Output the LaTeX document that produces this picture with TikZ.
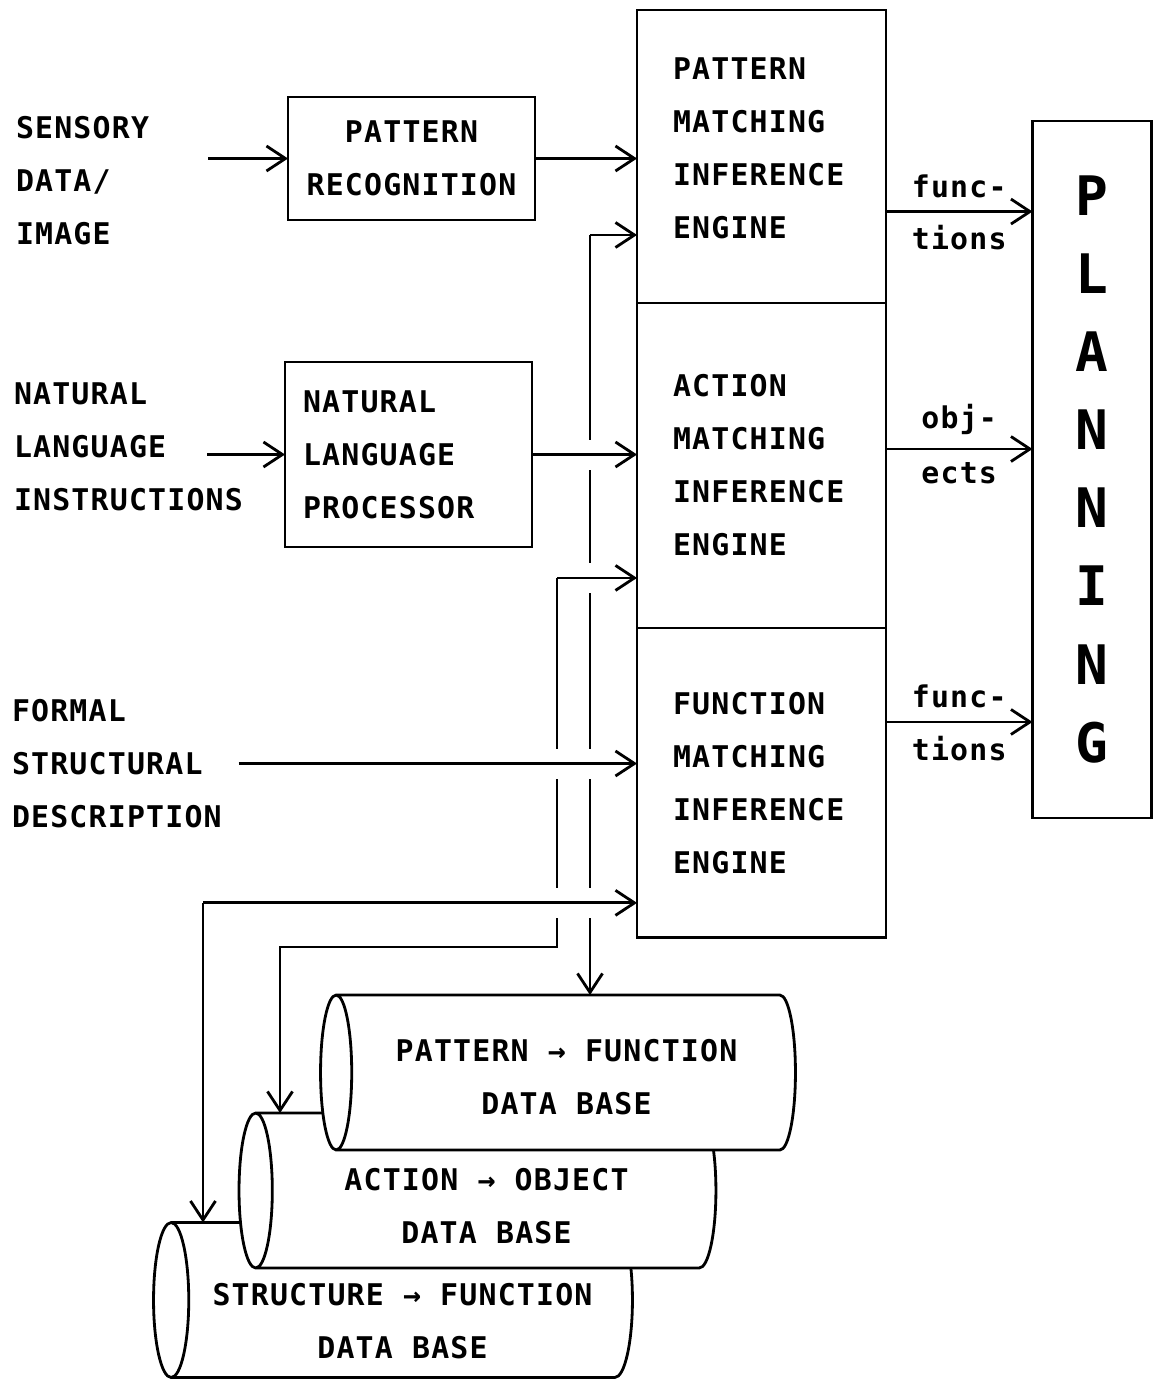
\documentclass[tikz,border=0pt]{standalone}
\usepackage{fontspec}
\usepackage{tikz}
\usetikzlibrary{arrows.meta,shapes.geometric,positioning,calc}
\newfontfamily\scanfont[LetterSpace=4]{DejaVu Sans Mono}
\newcommand{\scantext}{\scanfont\bfseries\fontsize{17}{30.2}\selectfont}
\newcommand{\bigtext}{\scanfont\bfseries\fontsize{31}{44.4}\selectfont}

\begin{document}
\begin{tikzpicture}[x=0.02cm, y=-0.02cm, line width=1.6pt, >={Straight Barb[length=0.38cm,width=0.5cm]},
    every node/.style={font=\scantext, inner sep=0pt, outer sep=0pt},
    box/.style={draw, fill=white, align=center},
    engine/.style={box, minimum width=4.98cm, text width=3.54cm, inner xsep=0.72cm, align=left},
    database/.style={cylinder, shape border rotate=180, draw, fill=white, minimum width=3.1cm, align=center},
    inputtext/.style={anchor=west, align=left},
    flowlabel/.style={inner sep=0.28cm}]
        \useasboundingbox (0,0) rectangle (1154,1380);

        \node[inputtext]  (sensory)  at (16,180.5)  {SENSORY\\DATA/\\IMAGE};
        \node[inputtext]  (natural)  at (14,446.5)  {NATURAL\\LANGUAGE\\INSTRUCTIONS};
        \node[inputtext]  (formal)   at (12,763.5)  {FORMAL\\STRUCTURAL\\DESCRIPTION};

        \node[box, minimum width=4.94cm, minimum height=2.46cm]    (pr)  at (411.5,158.5) {PATTERN\\RECOGNITION};
        \node[box, minimum width=4.94cm, minimum height=3.7cm, text width=4.22cm, inner xsep=0.36cm, align=left]
                                                                   (nlp) at (408.5,454.5) {NATURAL\\LANGUAGE\\PROCESSOR};

        \node[engine, minimum height=5.86cm, text depth=3.52cm]  (pme)  at (761.5,156.5)  {PATTERN\\MATCHING\\INFERENCE\\ENGINE};
        \node[engine, minimum height=6.5cm]   (ame)  [below=0pt of pme] {ACTION\\MATCHING\\INFERENCE\\ENGINE};
        \node[engine, minimum height=6.2cm]   (fme)  [below=0pt of ame] {FUNCTION\\MATCHING\\INFERENCE\\ENGINE};

        \node[box, minimum width=2.38cm, minimum height=13.94cm, font=\bigtext] (plan) at (1092,469.5) {P\\L\\A\\N\\N\\I\\N\\G};

        \node[database, minimum height=9.58cm, text height=2.34cm, aspect=0.3]   (sfdb)  at (402.5,1300)   {STRUCTURE → FUNCTION\\DATA BASE};
        \node[database, minimum height=9.54cm, text height=2.14cm, aspect=0.31]  (aodb)  at (486.5,1190.5) {ACTION → OBJECT\\DATA BASE};
        \node[database, minimum height=9.5cm, text height=1.7cm, aspect=0.365]   (pfdb)  at (566.5,1072.5) {PATTERN → FUNCTION\\DATA BASE};

        \coordinate (busA)  at (590,0);
        \coordinate (busB)  at (557,0);
        \coordinate (busC)  at (203,0);
        \coordinate (bendB) at (280,947);
        \coordinate (pA)    at ([yshift=-1.57cm]pme.west);
        \coordinate (pB)    at ([yshift=-2.25cm]ame.west);
        \coordinate (pC)    at ([yshift=-2.4cm]fme.west);
        \coordinate (pftop) at ([yshift=1.55cm]pfdb.center);
        \coordinate (aotop) at ([yshift=1.55cm]aodb.center);
        \coordinate (sftop) at ([yshift=1.55cm]sfdb.center);
        \coordinate (in1)   at ([yshift=5.16cm]plan.west);
        \coordinate (in2)   at ([yshift=0.41cm]plan.west);
        \coordinate (in3)   at ([yshift=-5.05cm]plan.west);

        \draw[->] (busA |- pA) -- (busA |- pftop);
        \draw[->] (busB |- pB) |- (bendB) -- (bendB |- aotop);
        \draw[->] (busC |- pC) -- (busC |- sftop);

        \foreach \p in {nlp.east, pB, formal.east, pC}
            \fill[white] ($(busA |- \p)+(-7,-15)$) rectangle ++(14,30);
        \foreach \p in {formal.east, pC}
            \fill[white] ($(busB |- \p)+(-7,-15)$) rectangle ++(14,30);

        \path[->]
                ([xshift=-1.6cm]pr.west)       edge   (pr.west)
                ([xshift=-1.56cm]nlp.west)     edge   (nlp.west)
                ([xshift=0.34cm]formal.east)   edge   (formal.east -| fme.west)
                (pr.east)                      edge   (pr.east -| pme.west)
                (nlp.east)                     edge   (nlp.east -| ame.west)
                (busA |- pA)                   edge   (pA)
                (busB |- pB)                   edge   (pB)
                (busC |- pC)                   edge   (pC)
                (pme.east |- in1)  edge node[flowlabel, above] {func-} node[flowlabel, below] {tions} (in1)
                (ame.east |- in2)  edge node[flowlabel, above] {obj-}  node[flowlabel, below] {ects}  (in2)
                (fme.east |- in3)  edge node[flowlabel, above] {func-} node[flowlabel, below] {tions} (in3);

\end{tikzpicture}
\end{document}
